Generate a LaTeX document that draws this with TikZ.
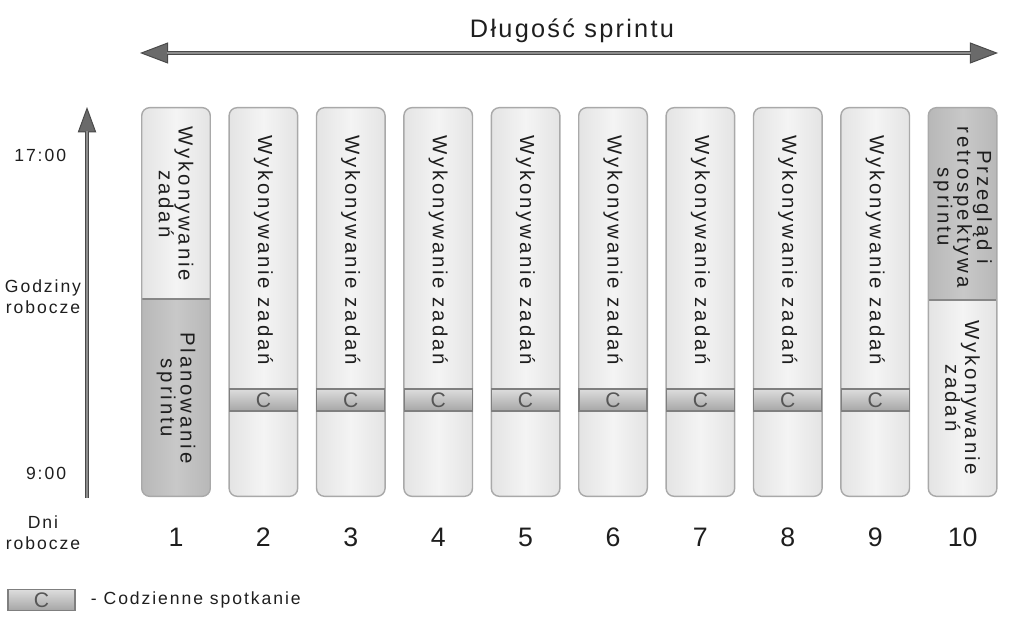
\documentclass[tikz,border=0pt]{standalone}
\usepackage{fontspec}
\setmainfont{Liberation Sans}
\usetikzlibrary{arrows.meta}
\definecolor{SprintText}{HTML}{1E1E1E}
\definecolor{SprintBorder}{HTML}{A9A9A9}
\definecolor{SprintLight}{HTML}{F4F4F4}
\definecolor{SprintEdge}{HTML}{E4E4E4}
\definecolor{SprintDark}{HTML}{C8C8C8}
\definecolor{SprintDarkEdge}{HTML}{B8B8B8}
\definecolor{SprintArrow}{HTML}{6A6A6A}
\definecolor{SprintArrowLine}{HTML}{4A4A4A}
\definecolor{SprintInner}{HTML}{8C8C8C}
\newcommand{\colfont}{\fontsize{14.5}{14}\selectfont\addfontfeatures{LetterSpace=14}}
\newcommand{\labfont}{\fontsize{12.5}{15}\selectfont\addfontfeatures{LetterSpace=11}}

\begin{document}
\begin{tikzpicture}[x=0.025cm, y=-0.025cm,
    spantip/.tip={Triangle[length=20pt, width=15pt, line width=0.7pt, fill=SprintArrow]},
    axistip/.tip={Triangle[length=18pt, width=13pt, line width=0.7pt, fill=SprintArrow]},
    colbox/.style={rounded corners=0.2cm, minimum width=1.7cm, minimum height=9.7cm,
        inner sep=0pt, left color=SprintEdge, right color=SprintEdge, middle color=SprintLight},
    colline/.style={draw=SprintBorder, line width=1pt, rounded corners=0.2cm},
    darkpart/.style={left color=SprintDarkEdge, right color=SprintDarkEdge, middle color=SprintDark},
    sepline/.style={draw=SprintBorder!80!black, line width=1.4pt},
    meetbar/.style={draw=SprintBorder!75!black, line width=0.8pt, top color=SprintLight!80!gray,
        bottom color=SprintDarkEdge!90!black, minimum width=1.7cm, minimum height=0.55cm, inner sep=0pt,
        font=\fontsize{15}{15}\selectfont, text=SprintText!75},
    coltext/.style={rotate=-90, align=center, font=\colfont, text=SprintText, inner sep=0pt},
    label/.style={align=center, font=\labfont, text=SprintText},
    daynum/.style={font=\fontsize{19}{19}\selectfont, text=SprintText},
    spanline/.style={draw=SprintArrowLine, line width=3.4pt},
    innerline/.style={draw=SprintInner, line width=1.3pt}]

    \useasboundingbox (0,0) rectangle (1024,628);

    % ========== TOP: sprint length ==========
    \coordinate (sl) at (140,53);
    \coordinate (sr) at (998,53);
    \draw[spanline, spantip-spantip] (sl) -- (sr);
    \draw[innerline, shorten <=19pt, shorten >=19pt] (sl) -- (sr);
    \node[font=\fontsize{18}{18}\selectfont\addfontfeatures{LetterSpace=9}, text=SprintText] (title) at (572,31) {Długość sprintu};

    % ========== LEFT: working hours axis ==========
    \coordinate (tb) at (87,498);
    \coordinate (tt) at (87,107);
    \draw[spanline, -axistip] (tb) -- (tt);
    \draw[innerline, shorten >=17pt] (tb) -- (tt);
    \node[label, anchor=east] (h17) at (71,155) {17:00};
    \node[label, anchor=east] (h9) at (71,473) {9:00};
    \node[label] (hours) at (43,297) {Godziny\\robocze};
    \node[label] (days) at (43,533) {Dni\\robocze};

    % ========== COLUMNS: sprint days ==========
    \foreach \i in {1,...,10} {
        \pgfmathsetmacro\xc{176+87.4*(\i-1)}
        \node[colbox] (c\i) at (\xc,302) {};
        \node[daynum] (n\i) at (\xc,537) {\i};
    }

    % day 1: planning at the bottom
    \begin{scope}
        \clip[rounded corners=0.2cm] (c1.north west) rectangle (c1.south east);
        \fill[darkpart] (142,299) rectangle (210,496);
    \end{scope}
    \draw[sepline] (142,299) -- (210,299);
    \draw[colline] (c1.north west) rectangle (c1.south east);
    \node[coltext] (w1) at (176,204) {Wykonywanie\\zadań};
    \node[coltext] (p1) at (176,398) {Planowanie\\sprintu};

    % days 2-9: work and daily meeting
    \foreach \i in {2,...,9} {
        \pgfmathsetmacro\xc{176+87.4*(\i-1)}
        \draw[colline] (c\i.north west) rectangle (c\i.south east);
        \node[coltext] (w\i) at (\xc,250) {Wykonywanie zadań};
        \node[meetbar] (m\i) at (\xc,400) {C};
    }

    % day 10: review at the top
    \begin{scope}
        \clip[rounded corners=0.2cm] (c10.north west) rectangle (c10.south east);
        \fill[darkpart] (929,108) rectangle (997,300);
    \end{scope}
    \draw[sepline] (929,300) -- (997,300);
    \draw[colline] (c10.north west) rectangle (c10.south east);
    \node[coltext] (r10) at (962.6,207) {Przegląd i\\retrospektywa\\sprintu};
    \node[coltext] (w10) at (962.6,398) {Wykonywanie\\zadań};

    % ========== LEGEND ==========
    \node[meetbar, minimum width=1.675cm, minimum height=0.52cm] (key) at (41.5,600) {C};
    \node[label, anchor=west] (keytext) at (86,600) {- Codzienne spotkanie};

\end{tikzpicture}
\end{document}
